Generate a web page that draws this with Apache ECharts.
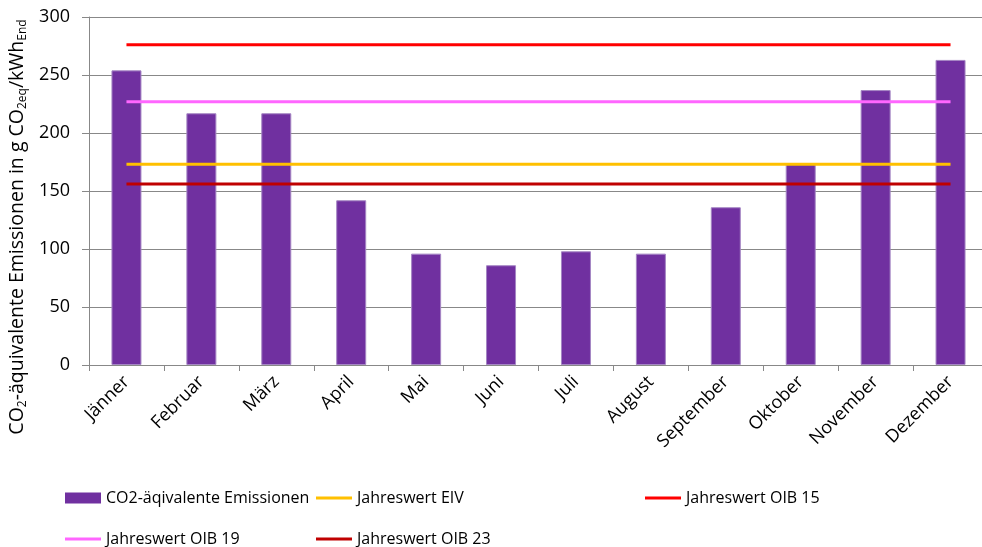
<!DOCTYPE html>
<html lang="de">
  <head>
    <meta charset="UTF-8" />
    <title>CO2-äquivalente Emissionen</title>
    <script src="https://cdn.jsdelivr.net/npm/echarts@6/dist/echarts.min.js"></script>
    <style>
      html, body { margin: 0; padding: 0; background: #fff; }
      #main { width: 982px; height: 547px; }
    </style>
  </head>
  <body>
    <div id="main"></div>
    <script>
      const months = [
        "Jänner", "Februar", "März", "April", "Mai", "Juni",
        "Juli", "August", "September", "Oktober", "November", "Dezember",
      ];
      const emissions = [254, 217, 217, 142, 96, 86, 98, 96, 136, 174, 237, 263];
      const jahresEIV = 173;
      const jahresOIB15 = 276;
      const jahresOIB19 = 227;
      const jahresOIB23 = 156;

      const font = "Open Sans";

      // horizontal line from first to last month
      function yearLine(name, value, color) {
        return {
          name: name,
          type: "line",
          symbol: "none",
          z: 3,
          lineStyle: { color: color, width: 3 },
          itemStyle: { color: color },
          data: [[months[0], value], [months[months.length - 1], value]],
        };
      }

      function legendAt(name, left, top, isBar) {
        return {
          data: [name],
          left: left,
          top: top,
          padding: 0,
          icon: "rect",
          itemWidth: 36,
          itemHeight: isBar ? 11 : 3,
          itemGap: 2,
          itemStyle: { borderWidth: 0 },
          textStyle: { fontFamily: font, fontSize: 16, color: "#000" },
        };
      }

      const chart = echarts.init(document.getElementById("main"));
      const option = {
        animation: false,
        textStyle: { fontFamily: font },
        grid: {
          left: 89,
          width: 899,
          top: 17,
          bottom: 182,
          containLabel: false,
          outerBoundsMode: "none",
        },
        legend: [
          legendAt("CO2-äqivalente Emissionen", 65, 490, true),
          legendAt("Jahreswert EIV", 316, 490, false),
          legendAt("Jahreswert OIB 15", 645, 490, false),
          legendAt("Jahreswert OIB 19", 65, 531, false),
          legendAt("Jahreswert OIB 23", 316, 531, false),
        ],
        xAxis: {
          type: "category",
          data: months,
          boundaryGap: true,
          axisLine: { lineStyle: { color: "#888", width: 1 } },
          axisTick: { show: true, length: 6, lineStyle: { color: "#888" } },
          axisLabel: {
            rotate: 45,
            interval: 0,
            margin: 14,
            fontSize: 18,
            color: "#000",
            fontFamily: font,
          },
        },
        yAxis: {
          type: "value",
          min: 0,
          max: 300,
          interval: 50,
          name: "{n|CO}{s|2}{n|-äquivalente Emissionen in g CO}{s|2eq}{n|/kWh}{s|End}",
          nameLocation: "middle",
          nameGap: 58,
          nameRotate: 90,
          nameTextStyle: {
            padding: [0, 72, 0, 0],
            rich: {
              n: { fontSize: 19.5, fontFamily: font, color: "#000" },
              s: { fontSize: 12, fontFamily: font, color: "#000", padding: [10, 0, 0, 0] },
            },
          },
          axisLine: { show: true, lineStyle: { color: "#888", width: 1 } },
          axisTick: { show: true, length: 7, lineStyle: { color: "#888" } },
          splitLine: { lineStyle: { color: "#888", width: 1 } },
          axisLabel: { fontSize: 18, color: "#000", margin: 19, fontFamily: font },
        },
        series: [
          {
            name: "CO2-äqivalente Emissionen",
            type: "bar",
            barWidth: 30,
            z: 2,
            itemStyle: { color: "#7030A0", borderColor: "#A586C4", borderWidth: 1 },
            data: emissions,
          },
          yearLine("Jahreswert EIV", jahresEIV, "#FFC000"),
          yearLine("Jahreswert OIB 15", jahresOIB15, "#FF0000"),
          yearLine("Jahreswert OIB 19", jahresOIB19, "#FF66FF"),
          yearLine("Jahreswert OIB 23", jahresOIB23, "#C00000"),
        ],
      };
      chart.setOption(option);
    </script>
  </body>
</html>
